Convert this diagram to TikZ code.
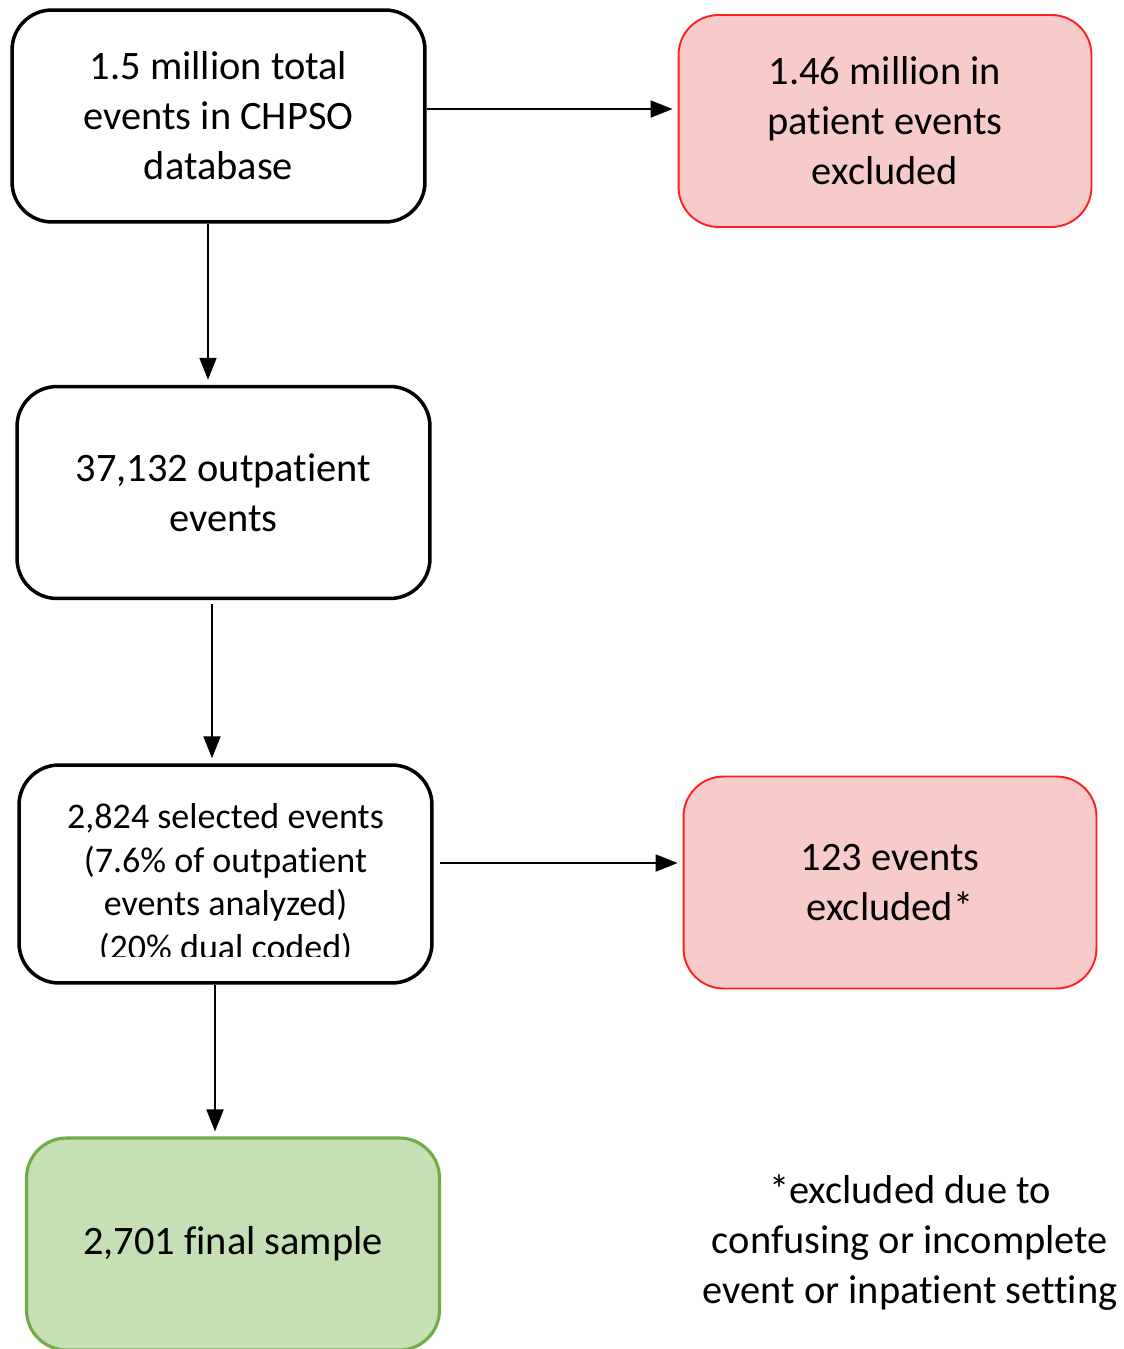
\documentclass[tikz,border=0pt]{standalone}
\usepackage{fontspec}
\setmainfont[Ligatures={NoCommon,NoContextual}, RawFeature={-calt}]{Carlito}
\usetikzlibrary{arrows.meta}

\definecolor{exclfill}{HTML}{F8CBCB}
\definecolor{exclline}{HTML}{FF2020}
\definecolor{finfill}{HTML}{C5E0B4}
\definecolor{finline}{HTML}{70AD47}

\tikzset{
    stepbox/.style={draw, rounded corners=0.8cm, line width=2pt, minimum width=8.26cm, minimum height=4.24cm, align=center, font=\fontsize{23}{28.5}\selectfont},
    exclbox/.style={stepbox, draw=exclline, fill=exclfill, line width=1.1pt},
    finbox/.style={stepbox, draw=finline, fill=finfill, line width=1.8pt},
    arr/.style={line width=1.1pt, -{Triangle[width=0.34cm,length=0.44cm]}, shorten >=0.1cm}
}

\begin{document}
\begin{tikzpicture}[x=0.02cm, y=-0.02cm]
        \useasboundingbox (0, 0) rectangle (1123, 1349);

        \node[stepbox] (total) at (218.5, 116) {1.5 million total\\events in CHPSO\\database};
        \node[exclbox] (inpat) at (885, 121) {1.46 million in\\patient events\\excluded};
        \node[stepbox] (outpat) at (223.5, 492.5) {37,132 outpatient\\events};
        \node[stepbox, minimum height=4.36cm] (select) at (225.5, 874) {};
        \begin{scope}
            \clip (30, 780) rectangle (420, 956);
            \node[align=center, font=\fontsize{20.5}{25}\selectfont] (selecttxt) at (225.5, 884) {2,824 selected events\\(7.6\% of outpatient\\events analyzed)\\(20\% dual coded)};
        \end{scope}
        \node[exclbox] (excl) at (890, 882.5) {123 events\\excluded*};
        \node[finbox] (final) at (233, 1244) {2,701 final sample};
        \node[align=center, font=\fontsize{23}{28.5}\selectfont] (note) at (910, 1243) {*excluded due to\\confusing or incomplete\\event or inpatient setting};

        \draw[arr] ([yshift=0.14cm]total.east) -- ([yshift=0.14cm]total.east -| inpat.west);
        \draw[arr] ([xshift=-0.21cm]total.south) -- ([xshift=-0.21cm]total.south |- outpat.north);
        \draw[arr] ([xshift=-0.23cm, yshift=-0.08cm]outpat.south) -- ([xshift=-0.23cm]outpat.south |- select.north);
        \draw[arr] ([xshift=0.12cm, yshift=0.22cm]select.east) -- ([yshift=0.22cm]select.east -| excl.west);
        \draw[arr] ([xshift=-0.21cm]select.south) -- ([xshift=-0.21cm]select.south |- final.north);
\end{tikzpicture}
\end{document}
